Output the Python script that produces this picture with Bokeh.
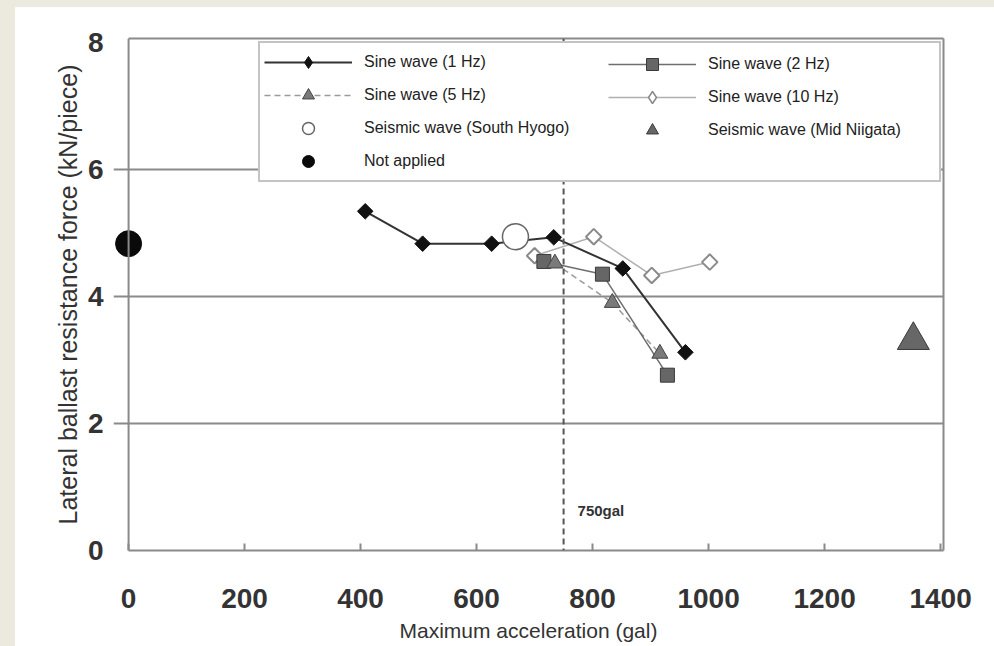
import numpy as np
from bokeh.plotting import figure
from bokeh.models import (Range1d, Legend, LegendItem, Span, Label, LinearAxis,
                          FixedTicker, Spacer)
from bokeh.layouts import row, column
from bokeh.embed import file_html
from bokeh.resources import INLINE

# ---------------- data ----------------
x_1hz = [408, 507, 626, 733, 852, 960]
y_1hz = [5.34, 4.83, 4.83, 4.93, 4.44, 3.12]
x_2hz = [716, 817, 929]
y_2hz = [4.55, 4.35, 2.76]
x_5hz = [735, 834, 916]
y_5hz = [4.52, 3.90, 3.10]
x_10hz = [700, 802, 902, 1002]
y_10hz = [4.64, 4.94, 4.33, 4.54]
x_hyogo = [667]
y_hyogo = [4.94]
x_niigata = [1353]
y_niigata = [3.31]
x_none = [0]
y_none = [4.83]
x_ticks = [0, 200, 400, 600, 800, 1000, 1200, 1400]
y_ticks = [0, 2, 4, 6, 8]
y_grid = [2, 4, 6]
limit_gal = 750
limit_label = "750gal"

FONT = "Liberation Sans"
GRAY = "#8a8a8a"
BEIGE = "#ece9df"

p = figure(width=979, height=639,
           x_range=Range1d(-26, 1405), y_range=Range1d(0, 8.06),
           output_backend="svg", toolbar_location=None,
           min_border_left=98, min_border_right=51,
           min_border_top=31, min_border_bottom=96,
           background_fill_color="white", border_fill_color="white",
           outline_line_color=None)

# ---------------- axes ----------------
xa = p.xaxis[0]
xa.ticker = FixedTicker(ticks=x_ticks)
xa.bounds = (0, 1405)
xa.axis_line_color = GRAY
xa.axis_line_width = 2
xa.major_tick_in = 7
xa.major_tick_out = 0
xa.major_tick_line_color = GRAY
xa.major_tick_line_width = 2
xa.minor_tick_line_color = None
xa.major_label_standoff = 38
xa.major_label_text_font = FONT
xa.major_label_text_font_style = "bold"
xa.major_label_text_font_size = "28px"
xa.major_label_text_color = "#333333"
xa.axis_label = "Maximum acceleration (gal)"
xa.axis_label_text_font = FONT
xa.axis_label_text_font_style = "normal"
xa.axis_label_text_font_size = "21px"
xa.axis_label_text_color = "#333333"
xa.axis_label_standoff = 8

ya = p.yaxis[0]
ya.ticker = FixedTicker(ticks=y_ticks)
ya.axis_line_color = None
ya.major_tick_line_color = None
ya.minor_tick_line_color = None
ya.major_label_standoff = 4
ya.major_label_text_font = FONT
ya.major_label_text_font_style = "bold"
ya.major_label_text_font_size = "28px"
ya.major_label_text_color = "#333333"
ya.axis_label = "Lateral ballast resistance force (kN/piece)"
ya.axis_label_text_font = FONT
ya.axis_label_text_font_style = "normal"
ya.axis_label_text_font_size = "25px"
ya.axis_label_text_color = "#333333"
ya.axis_label_standoff = 3

top_axis = LinearAxis(ticker=FixedTicker(ticks=[]), bounds=(0, 1405),
                      axis_line_color=GRAY, axis_line_width=2,
                      major_tick_line_color=None, minor_tick_line_color=None)
p.add_layout(top_axis, "above")
right_axis = LinearAxis(ticker=FixedTicker(ticks=[]),
                        axis_line_color=GRAY, axis_line_width=2,
                        major_tick_line_color=None, minor_tick_line_color=None)
p.add_layout(right_axis, "right")

p.xgrid.visible = False
p.ygrid.ticker = FixedTicker(ticks=y_grid)
p.ygrid.grid_line_color = GRAY
p.ygrid.grid_line_width = 2

# left axis line drawn at x = 0
p.add_layout(Span(location=0, dimension="height", line_color=GRAY, line_width=2))

# ---------------- series ----------------
l10 = p.line(x_10hz, y_10hz, line_color="#b0b0b0", line_width=1.5)
d10 = p.scatter(x_10hz, y_10hz, marker="diamond", size=12,
                fill_color="white", line_color="#8a8a8a", line_width=1.5)
s10 = p.scatter(x_10hz, y_10hz, marker="square", angle=np.pi / 4, size=11,
                fill_color="white", line_color="#8a8a8a", line_width=2)

l5 = p.line(x_5hz, y_5hz, line_color="#9a9a9a", line_width=1.5, line_dash="6 4")
l2 = p.line(x_2hz, y_2hz, line_color="#6e6e6e", line_width=1.5)
l1 = p.line(x_1hz, y_1hz, line_color="#333333", line_width=2)

s2 = p.scatter(x_2hz, y_2hz, marker="square", size=14,
               fill_color="#666666", line_color="#3a3a3a", line_width=1)
s5 = p.scatter(x_5hz, y_5hz, marker="triangle", size=16,
               fill_color="#7a7a7a", line_color="#444444", line_width=1)
sh = p.scatter(x_hyogo, y_hyogo, marker="circle", size=26,
               fill_color="white", line_color="#666666", line_width=1.5)
d1 = p.scatter(x_1hz, y_1hz, marker="diamond", size=12,
               fill_color="#111111", line_color="#111111", line_width=1)
s1 = p.scatter(x_1hz, y_1hz, marker="square", angle=np.pi / 4, size=11,
               fill_color="#111111", line_color="#111111", line_width=1)
sn_ = p.scatter(x_niigata, y_niigata, marker="triangle", size=32,
                fill_color="#676767", line_color="#3a3a3a", line_width=1)
sna = p.scatter(x_none, y_none, marker="circle", size=26,
                fill_color="#0a0a0a", line_color="#0a0a0a")

# ---------------- 750 gal limit ----------------
p.add_layout(Span(location=limit_gal, dimension="height", line_color="#555555",
                  line_width=2, line_dash="6 4"))
p.add_layout(Label(x=limit_gal, y=0.63, x_offset=14, text=limit_label,
                   text_font=FONT, text_font_style="bold", text_font_size="15px",
                   text_color="#333333", text_baseline="middle"))

# ---------------- legend (two columns) ----------------
common = dict(glyph_width=88, glyph_height=30, spacing=3, padding=4, margin=0,
              label_standoff=12, label_text_font=FONT, label_text_font_size="16px",
              label_text_color="#222222")
legA = Legend(items=[
    LegendItem(label="Sine wave (1 Hz)", renderers=[l1, d1]),
    LegendItem(label="Sine wave (5 Hz)", renderers=[l5, s5]),
    LegendItem(label="Seismic wave (South Hyogo)", renderers=[sh]),
    LegendItem(label="Not applied", renderers=[sna]),
], location=(145, 368), label_width=571,
    border_line_color=GRAY, border_line_width=2,
    background_fill_color="white", background_fill_alpha=1, **common)
legB = Legend(items=[
    LegendItem(label="Sine wave (2 Hz)", renderers=[l2, s2]),
    LegendItem(label="Sine wave (10 Hz)", renderers=[l10, d10]),
    LegendItem(label="Seismic wave (Mid Niigata)", renderers=[sn_]),
], location=(491, 401), border_line_alpha=0, background_fill_alpha=0, **common)
p.add_layout(legA)
p.add_layout(legB)

top_strip = Spacer(width=994, height=7, styles={"background-color": BEIGE})
left_strip = Spacer(width=15, height=639, styles={"background-color": BEIGE})
layout = column(top_strip, row(left_strip, p))

open("out.html", "w").write(file_html(layout, INLINE))
